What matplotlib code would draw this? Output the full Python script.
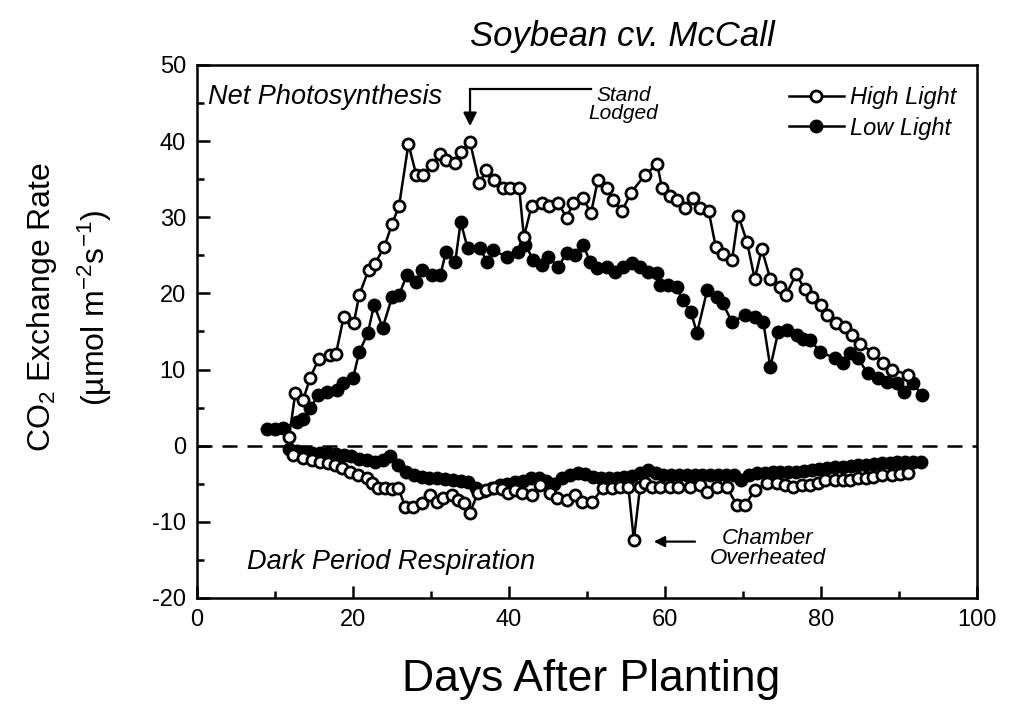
import matplotlib
matplotlib.use("Agg")
from matplotlib import pyplot as plt

plt.rcParams['font.family'] = ['Liberation Sans', 'DejaVu Sans']
plt.rcParams['mathtext.default'] = 'regular'
plt.rcParams['axes.unicode_minus'] = False

# net photosynthesis, high light (open circles)
days_high = [11.8, 12.6, 13.6, 14.5, 15.6, 17.1, 17.8, 18.8, 20.1, 20.8, 22.0, 22.8,
             24.0, 25.0, 25.9, 27.1, 28.1, 29.0, 30.1, 31.2, 31.9, 33.1, 33.8, 35.0,
             36.2, 37.1, 38.1, 39.2, 40.1, 41.3, 41.9, 42.9, 44.2, 45.1, 46.3, 47.4,
             48.2, 49.5, 50.5, 51.4, 52.6, 53.3, 54.5, 55.6, 57.4, 59.0, 59.6, 60.6,
             61.5, 62.6, 63.6, 64.5, 65.6, 66.5, 67.4, 68.6, 69.4, 70.5, 71.5, 72.4,
             73.5, 74.7, 75.5, 76.8, 77.9, 78.8, 80.0, 80.8, 81.9, 83.1, 84.0, 85.0,
             86.7, 87.9, 89.1, 91.2]
net_high = [1.1, 6.9, 6.0, 8.9, 11.4, 11.9, 12.0, 16.9, 16.1, 19.8, 23.1, 23.9,
            26.1, 29.1, 31.5, 39.6, 35.6, 35.6, 36.9, 38.3, 37.5, 37.1, 38.6, 39.9,
            34.5, 36.2, 34.9, 33.9, 33.9, 33.9, 27.4, 31.5, 31.9, 31.5, 31.9, 29.9,
            31.9, 32.5, 30.5, 34.9, 33.9, 32.3, 30.8, 33.2, 35.5, 37.0, 33.9, 32.8,
            32.3, 31.2, 32.5, 31.2, 30.8, 26.1, 25.2, 24.4, 30.2, 26.8, 21.9, 25.8,
            21.9, 20.8, 19.8, 22.5, 20.6, 19.5, 18.5, 17.2, 16.1, 15.6, 14.5, 13.4,
            12.2, 10.9, 10.0, 9.3]

# net photosynthesis, low light (filled circles)
days_low = [9.0, 10.0, 11.0, 12.8, 13.6, 14.5, 15.5, 16.7, 17.9, 18.7, 20.0, 20.8,
            21.9, 22.7, 23.8, 25.0, 25.9, 26.9, 28.1, 28.8, 30.1, 31.2, 31.9, 33.1,
            33.8, 34.7, 36.3, 37.2, 37.9, 39.7, 41.2, 42.1, 43.1, 44.2, 45.0, 46.3,
            47.4, 48.5, 49.5, 50.4, 51.3, 52.6, 53.6, 54.6, 55.8, 56.8, 57.8, 59.0,
            59.4, 60.4, 61.5, 62.3, 63.3, 64.1, 65.4, 66.7, 67.4, 68.6, 70.3, 71.5,
            72.6, 73.5, 74.5, 75.6, 76.9, 77.7, 78.6, 79.9, 81.8, 82.8, 83.7, 84.7,
            86.0, 87.3, 88.5, 89.7, 90.7, 91.8, 92.9]
net_low = [2.2, 2.2, 2.3, 3.1, 3.5, 4.9, 6.6, 7.1, 7.3, 8.2, 8.9, 12.3,
           14.8, 18.5, 15.5, 19.5, 19.8, 22.4, 21.5, 23.1, 22.4, 22.4, 25.4, 24.1,
           29.4, 25.9, 25.9, 24.1, 25.7, 24.8, 25.4, 26.4, 24.4, 23.7, 24.8, 23.5,
           25.3, 25.0, 26.4, 24.1, 23.3, 23.5, 22.8, 23.5, 24.0, 23.5, 22.8, 22.7,
           21.1, 21.1, 20.8, 19.1, 17.6, 14.8, 20.4, 19.5, 18.7, 16.2, 17.2, 16.9,
           16.2, 10.3, 14.9, 15.2, 14.6, 14.0, 13.9, 12.3, 11.5, 10.9, 12.2, 11.5,
           9.5, 8.9, 8.4, 8.2, 7.0, 8.2, 6.7]

# dark period respiration, high light
days_resp_high = [12.3, 13.6, 14.7, 15.8, 16.8, 17.7, 18.6, 19.6, 20.6, 21.8, 22.4, 23.2,
                  24.1, 25.0, 25.8, 26.7, 27.7, 28.8, 29.9, 30.8, 31.5, 32.7, 33.5, 34.2,
                  35.0, 36.0, 37.1, 38.1, 39.1, 39.9, 40.8, 41.7, 42.9, 44.0, 45.3, 46.2,
                  47.4, 48.5, 49.4, 50.6, 52.1, 53.2, 54.2, 55.3, 56.0, 56.8, 57.4, 58.3,
                  59.4, 60.6, 61.7, 63.2, 64.5, 65.4, 66.7, 67.9, 69.2, 70.3, 71.5, 73.1,
                  74.4, 75.4, 76.4, 77.6, 78.6, 79.6, 80.5, 81.8, 82.8, 83.7, 84.7, 85.8,
                  86.7, 87.8, 89.1, 90.1, 91.2]
resp_high = [-1.2, -1.6, -1.9, -2.1, -2.3, -2.5, -2.9, -3.4, -3.8, -4.3, -4.9, -5.5,
             -5.5, -5.7, -5.5, -8.1, -8.1, -7.5, -6.5, -7.4, -6.9, -6.5, -7.1, -7.5,
             -8.8, -6.2, -5.8, -5.5, -5.7, -6.2, -5.8, -6.2, -6.5, -5.2, -6.2, -6.9,
             -7.1, -6.5, -7.4, -7.4, -5.5, -5.5, -5.4, -5.4, -12.4, -5.4, -4.9, -5.4,
             -5.4, -5.4, -5.4, -5.4, -5.2, -6.1, -5.4, -5.4, -7.8, -7.8, -5.8, -4.9,
             -4.9, -5.2, -5.4, -5.2, -5.2, -4.9, -4.5, -4.5, -4.5, -4.5, -4.2, -4.2,
             -4.1, -3.8, -3.8, -3.7, -3.6]

# dark period respiration, low light
days_resp_low = [11.8, 12.8, 13.8, 14.8, 15.8, 16.8, 17.8, 18.8, 19.8, 20.8, 21.8, 22.8,
                 23.8, 24.8, 25.8, 26.8, 27.8, 28.8, 29.8, 30.8, 31.8, 32.8, 33.8, 34.8,
                 35.8, 36.8, 37.8, 38.8, 39.8, 40.8, 41.8, 42.8, 43.8, 44.8, 45.8, 46.8,
                 47.8, 48.8, 49.8, 50.8, 51.8, 52.8, 53.8, 54.8, 55.8, 56.8, 57.8, 58.8,
                 59.8, 60.8, 61.8, 62.8, 63.8, 64.8, 65.8, 66.8, 67.8, 68.8, 69.8, 70.8,
                 71.8, 72.8, 73.8, 74.8, 75.8, 76.8, 77.8, 78.8, 79.8, 80.8, 81.8, 82.8,
                 83.8, 84.8, 85.8, 86.8, 87.8, 88.8, 89.8, 90.8, 91.8, 92.8]
resp_low = [-0.4, -0.7, -0.8, -0.9, -1.0, -1.0, -1.1, -1.2, -1.4, -1.7, -1.9, -2.1,
            -1.9, -1.4, -2.5, -3.5, -3.8, -4.1, -4.2, -4.3, -4.4, -4.5, -4.6, -4.8,
            -5.5, -5.9, -5.6, -5.2, -5.0, -4.8, -4.6, -4.3, -4.2, -4.7, -5.0, -4.2,
            -3.8, -3.6, -3.7, -4.1, -4.2, -4.2, -4.2, -4.1, -4.0, -3.6, -3.2, -3.6,
            -3.8, -3.8, -3.8, -3.9, -3.8, -3.8, -3.8, -3.9, -3.9, -3.9, -4.5, -3.8,
            -3.6, -3.6, -3.5, -3.5, -3.4, -3.4, -3.3, -3.2, -3.0, -2.9, -2.8, -2.8,
            -2.7, -2.6, -2.5, -2.4, -2.3, -2.3, -2.2, -2.2, -2.1, -2.1]

fig = plt.figure(figsize=(10.13, 7.11), dpi=100)
ax = fig.add_axes([0.1945, 0.159, 0.770, 0.7496])

open_style = dict(color='black', linewidth=1.8, marker='o', markersize=8,
                  markerfacecolor='white', markeredgecolor='black', markeredgewidth=2.0)
fill_style = dict(color='black', linewidth=1.8, marker='o', markersize=8,
                  markerfacecolor='black', markeredgecolor='black', markeredgewidth=2.0)

ax.plot(days_resp_low, resp_low, **fill_style)
ax.plot(days_resp_high, resp_high, **open_style)
ax.plot(days_low, net_low, label='Low Light', **fill_style)
ax.plot(days_high, net_high, label='High Light', **open_style)

ax.axhline(0, color='black', linestyle=(0, (6, 4)), linewidth=1.8, zorder=0)

ax.set_xlim(0, 100)
ax.set_ylim(-20, 50)
ax.set_xticks(range(0, 101, 20))
ax.set_xticks(range(10, 100, 20), minor=True)
ax.set_yticks(range(-20, 51, 10))
ax.set_yticks(range(-15, 50, 10), minor=True)
ax.tick_params(which='both', direction='in', labelsize=17, width=1.8, pad=8)
ax.tick_params(which='major', length=9)
ax.tick_params(which='minor', length=5)
for s in ax.spines.values():
    s.set_linewidth(1.8)

ax.set_title('Soybean cv. McCall', fontsize=25, style='italic', pad=14, x=0.545)
ax.set_xlabel('Days After Planting', fontsize=32)
ax.xaxis.set_label_coords(0.505, -0.115)
ax.set_ylabel('CO$_2$ Exchange Rate\n(µmol m$^{-2}$s$^{-1}$)', fontsize=23, linespacing=1.55)
ax.yaxis.set_label_coords(-0.107, 0.545)

handles, labels = ax.get_legend_handles_labels()
ax.legend(handles[::-1], labels[::-1], loc='upper right', frameon=False,
          prop={'style': 'italic', 'size': 17}, handlelength=2.3, handletextpad=0.25,
          borderaxespad=0, bbox_to_anchor=(0.985, 0.978), labelspacing=0.32)

ax.text(1.4, 45.8, 'Net Photosynthesis', fontsize=19.5, style='italic', va='center')
ax.text(6.4, -15.3, 'Dark Period Respiration', fontsize=19.5, style='italic', va='center')
ax.text(54.7, 44.8, 'Stand\nLodged', fontsize=15, style='italic', ha='center', va='center',
        linespacing=0.95)
ax.plot([35.0, 50.5], [46.9, 46.9], color='black', linewidth=1.6)
ax.annotate('', xy=(35.0, 41.6), xytext=(35.0, 47.0),
            arrowprops=dict(arrowstyle='-|>', color='black', lw=1.6, mutation_scale=20))
ax.text(73.2, -13.5, 'Chamber\nOverheated', fontsize=16, style='italic', ha='center',
        va='center', linespacing=0.95)
ax.annotate('', xy=(58.2, -12.6), xytext=(64.2, -12.6),
            arrowprops=dict(arrowstyle='-|>', color='black', lw=1.6, mutation_scale=16))

plt.savefig('out.png', dpi=100)
